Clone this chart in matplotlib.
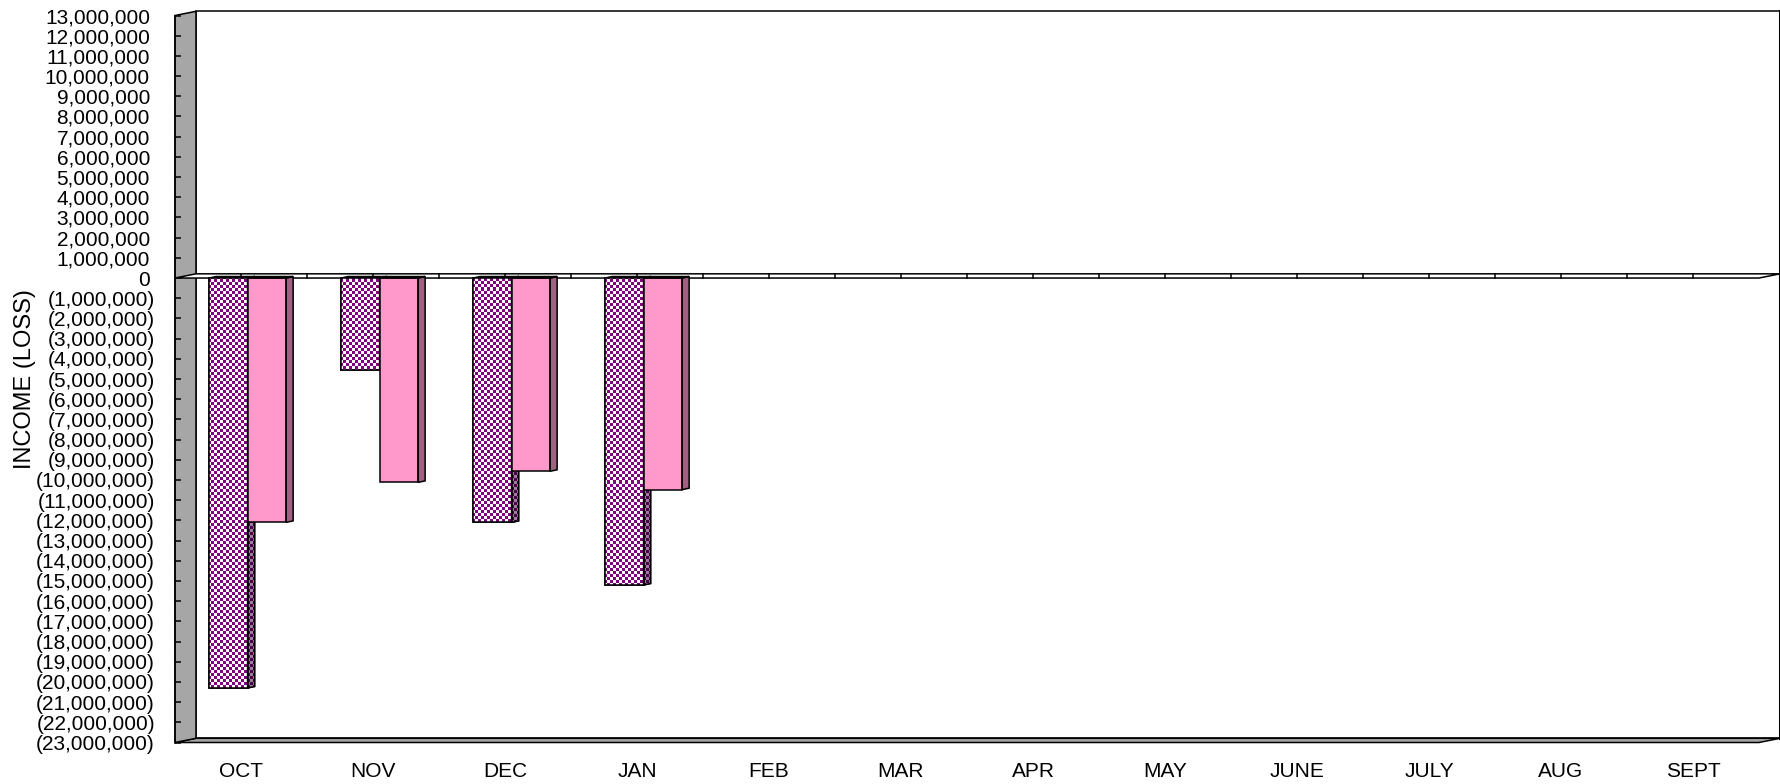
import numpy as np
import matplotlib
matplotlib.use('Agg')
import matplotlib.pyplot as plt
from matplotlib.patches import Polygon, Rectangle
from matplotlib.colors import ListedColormap
from matplotlib.transforms import ScaledTranslation

months = ['OCT', 'NOV', 'DEC', 'JAN', 'FEB', 'MAR', 'APR', 'MAY',
          'JUNE', 'JULY', 'AUG', 'SEPT']
# only the first four months have figures so far
income_a = [-20_300_000, -4_570_000, -12_100_000, -15_200_000]   # checkered series
income_b = [-12_100_000, -10_120_000, -9_570_000, -10_480_000]   # pink series
y_ticks = np.arange(-23_000_000, 13_000_001, 1_000_000)

plt.rcParams['font.family'] = ['Liberation Sans', 'DejaVu Sans']

W, H = 1781, 784
fig = plt.figure(figsize=(W / 100, H / 100), dpi=100)
ax_px = (175, 742.5, 1584, 727)  # left, bottom(from top), width, height in px
ax = fig.add_axes([ax_px[0] / W, 1 - ax_px[1] / H, ax_px[2] / W, ax_px[3] / H])

n = len(months)
ymin, ymax = y_ticks[0], y_ticks[-1]
px_x = ax_px[2] / n                    # px per category
px_y = ax_px[3] / (ymax - ymin)        # px per unit
DX, DY = 21 / px_x, 4.2 / px_y         # depth of the box
BDX, BDY = 7 / px_x, 1.5 / px_y        # depth of a bar

gray = '#A6A6A6'
lw = 1.1

# back wall, floor and side wall
ax.add_patch(Rectangle((DX, ymin + DY), n, ymax - ymin, fc='white', ec='black',
                       lw=lw, clip_on=False, zorder=0))
ax.plot([n + DX, n + DX], [ymin + DY, ymax + DY], color='black', lw=2.2,
        clip_on=False, zorder=0.5)
ax.add_patch(Polygon([(0, ymin), (n, ymin), (n + DX, ymin + DY), (DX, ymin + DY)],
                     closed=True, fc=gray, ec='black', lw=lw, clip_on=False, zorder=1))
ax.add_patch(Polygon([(0, ymin), (DX, ymin + DY), (DX, ymax + DY), (0, ymax)],
                     closed=True, fc=gray, ec='black', lw=lw, clip_on=False, zorder=1))

# zero plane
ax.add_patch(Polygon([(0, 0), (n, 0), (n + DX, DY), (DX, DY)], closed=True,
                     fc='white', ec='black', lw=lw, clip_on=False, zorder=2))
for k in np.arange(1, 2 * n) * 0.5:
    ax.plot([k, k], [0, DY], color='black', lw=lw, zorder=2)

# checkerboard textures at 3 px cells
hh, ww = int(ax_px[3]), int(ax_px[2])
yy, xx = np.mgrid[0:hh, 0:ww]
checker = ((yy // 3 + xx // 3) % 2).astype(float)
front_cmap = ListedColormap(['white', '#800080'])
side_cmap = ListedColormap(['#9A7F9A', '#4A004A'])


def textured(poly, cmap):
    img = ax.imshow(checker, cmap=cmap, extent=(0, n, ymin, ymax), aspect='auto',
                    interpolation='nearest', zorder=poly.get_zorder() + 0.01)
    img.set_clip_path(poly)


def bar3d(x0, w, v, face, side, top, z, tex_cmap=None, side_tex=None):
    rect = ax.bar(x0, v, width=w, align='edge', color=face, ec='black',
                  lw=lw, zorder=z)[0]
    sp = Polygon([(x0 + w, 0), (x0 + w + BDX, BDY), (x0 + w + BDX, v + BDY),
                  (x0 + w, v)], closed=True, fc=side, ec='black', lw=lw, zorder=z)
    tp = Polygon([(x0, 0), (x0 + w, 0), (x0 + w + BDX, BDY), (x0 + BDX, BDY)],
                 closed=True, fc=top, ec='black', lw=lw, zorder=z)
    ax.add_patch(sp)
    ax.add_patch(tp)
    if tex_cmap is not None:
        textured(rect, tex_cmap)
        textured(sp, side_tex)
        # redraw the outlines over the texture
        for p in (rect, sp):
            ax.add_patch(Polygon(p.get_path().transformed(p.get_patch_transform()).vertices
                                 if isinstance(p, Rectangle) else p.get_xy(),
                                 closed=True, fill=False, ec='black', lw=lw,
                                 zorder=z + 0.02))


bw = 0.292
for i, (a, b) in enumerate(zip(income_a, income_b)):
    z = 3 + i
    bar3d(i + 0.258, bw, a, '#800080', '#5A005A', '#3A003A', z,
          front_cmap, side_cmap)
    bar3d(i + 0.258 + bw, bw, b, '#FF99CC', '#A06080', '#704058', z + 0.5)

ax.set_xlim(0, n)
ax.set_ylim(ymin, ymax)

for s in ('top', 'right', 'bottom'):
    ax.spines[s].set_visible(False)
ax.spines['left'].set_linewidth(lw)
ax.spines['left'].set_zorder(2.5)

ax.set_xticks(np.arange(n) + 0.5)
ax.set_xticklabels(months, fontsize=15)
ax.tick_params(axis='x', length=0, pad=14)

ax.set_yticks(y_ticks)
labels = [f'{v:,.0f}' if v >= 0 else f'({-v:,.0f})' for v in y_ticks]
ax.set_yticklabels(labels, fontsize=15)
ax.tick_params(axis='y', direction='in', length=4.3, width=1.1, pad=14.4)
# positive labels sit left of the closing parenthesis
for v, t in zip(y_ticks, ax.get_yticklabels()):
    if v >= 0:
        t.set_transform(t.get_transform() + ScaledTranslation(-5 / 100, 0, fig.dpi_scale_trans))

ax.set_ylabel('INCOME (LOSS)', fontsize=17, va='center')
ax.yaxis.set_label_coords((25 - 175) / ax_px[2], 0.5)

fig.savefig('out.png', dpi=100)
